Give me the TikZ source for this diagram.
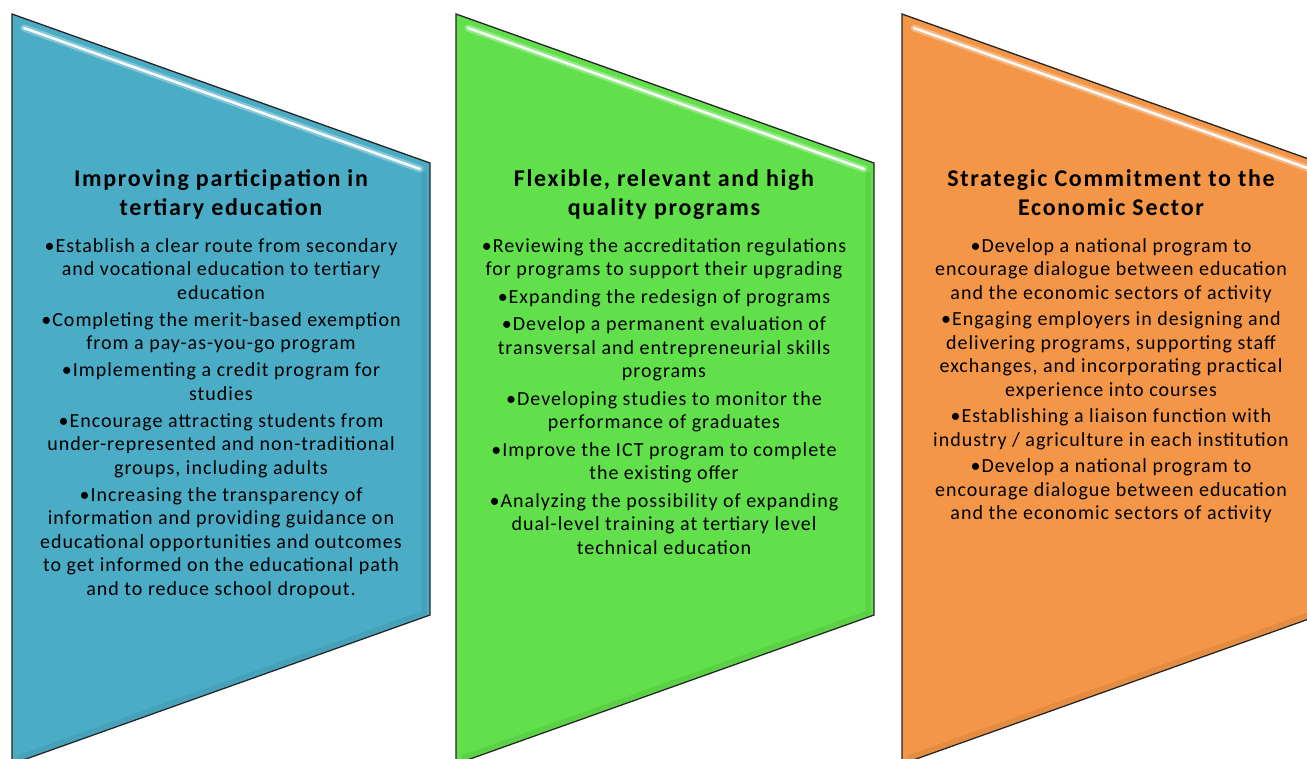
\documentclass[tikz,border=0pt]{standalone}
\usepackage{fontspec}
\setmainfont{Carlito}
\newfontfamily\bodyfont[LetterSpace=5]{Carlito}
\newfontfamily\titlefont[LetterSpace=7]{Carlito}
\definecolor{cblue}{HTML}{4BACC6}
\definecolor{cgreen}{HTML}{61E04B}
\definecolor{corange}{HTML}{F39647}
\tikzset{
  panel/.style={draw=black!85, line width=1.3pt, line join=miter},
  hilite/.style={white, line width=2.5pt, line cap=round, opacity=0.95},
  glow/.style={white, line width=7pt, line cap=round, opacity=0.3},
  shade/.style={black, line width=5pt, opacity=0.06},
  title/.style={align=center, inner sep=0pt, anchor=north, font=\titlefont\bfseries\fontsize{24}{29}\selectfont},
  body/.style={align=center, inner sep=0pt, anchor=north, font=\bodyfont\fontsize{20}{23.5}\selectfont}
}
\newcommand{\bul}{\textbullet\hspace{1pt}}
\begin{document}
\begin{tikzpicture}[x=1pt,y=-1pt]
\useasboundingbox (0,0) rectangle (1307,758);
\clip (0,0) rectangle (1307,758);
% panels
\foreach \x/\c in {12/cblue,456/cgreen,902/corange}{
  \fill[\c] (\x,14) -- ++(418,149) -- ++(0,452) -- ++(-418,149) -- cycle;
  \draw[shade] (\x+6,758) -- (\x+412,613) -- (\x+412,172);
  \draw[glow] (\x+12,28) -- (\x+408,169);
  \draw[hilite] (\x+12,28) -- (\x+408,169);
  \draw[panel] (\x,14) -- ++(418,149) -- ++(0,452) -- ++(-418,149) -- cycle;
}
% titles
\node[title] (t1) at (221,169) {Improving participation in\\tertiary education};
\node[title] (t2) at (664,169) {Flexible, relevant and high\\quality programs};
\node[title] (t3) at (1111,169) {Strategic Commitment to the\\Economic Sector};
% bodies
\node[body] (b1) at (221,238) {\bul Establish a clear route from secondary\\ and vocational education to tertiary\\ education\\[3.5pt]
\bul Completing the merit-based exemption\\ from a pay-as-you-go program\\[3.5pt]
\bul Implementing a credit program for\\ studies\\[3.5pt]
\bul Encourage attracting students from\\ under-represented and non-traditional\\ groups, including adults\\[3.5pt]
\bul Increasing the transparency of\\ information and providing guidance on\\ educational opportunities and outcomes\\ to get informed on the educational path\\ and to reduce school dropout.};
\node[body] (b2) at (664,238) {\bul Reviewing the accreditation regulations\\ for programs to support their upgrading\\[4pt]
\bul Expanding the redesign of programs\\[4pt]
\bul Develop a permanent evaluation of\\ transversal and entrepreneurial skills\\ programs\\[4pt]
\bul Developing studies to monitor the\\ performance of graduates\\[4pt]
\bul Improve the ICT program to complete\\ the existing offer\\[4pt]
\bul Analyzing the possibility of expanding\\ dual-level training at tertiary level\\ technical education};
\node[body] (b3) at (1111,238) {\bul Develop a national program to\\ encourage dialogue between education\\ and the economic sectors of activity\\[3pt]
\bul Engaging employers in designing and\\ delivering programs, supporting staff\\ exchanges, and incorporating practical\\ experience into courses\\[3pt]
\bul Establishing a liaison function with\\ industry / agriculture in each institution\\[3pt]
\bul Develop a national program to\\ encourage dialogue between education\\ and the economic sectors of activity};
\end{tikzpicture}
\end{document}
